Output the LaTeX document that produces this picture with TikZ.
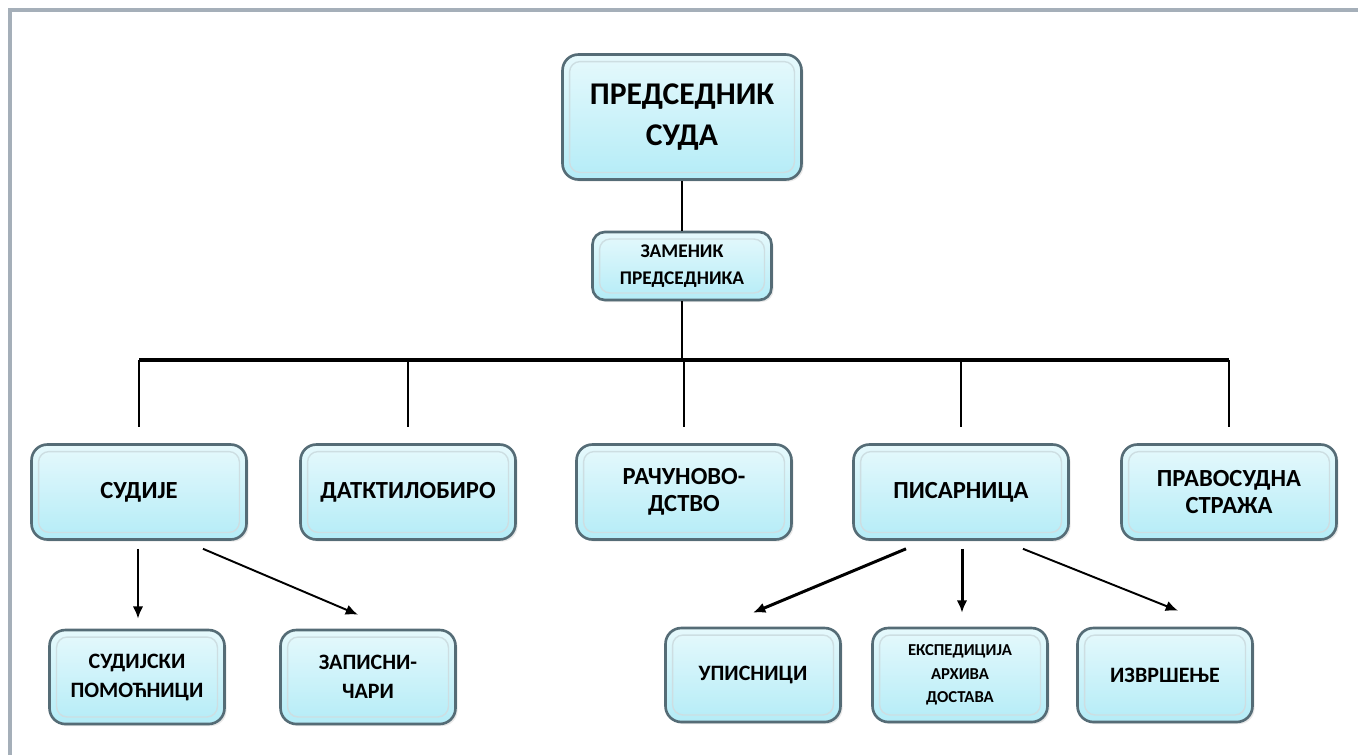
\documentclass[tikz,border=0pt]{standalone}
\usepackage{fontspec}
\setmainfont{Carlito}
\usetikzlibrary{arrows.meta,calc,shadows}

\definecolor{boxline}{RGB}{85,108,118}
\definecolor{boxinner}{RGB}{205,222,226}
\definecolor{boxtop}{RGB}{230,249,252}
\definecolor{boxbottom}{RGB}{180,236,247}
\definecolor{frameline}{RGB}{165,175,185}

\tikzset{
  orgbox/.style={draw=boxline, line width=1.5pt, rounded corners=9pt,
    top color=boxtop, bottom color=boxbottom, align=center,
    inner sep=2pt, text=black,
    drop shadow={opacity=0.18, shadow xshift=1.2pt, shadow yshift=-1.2pt},
    path picture={\draw[boxinner, line width=0.8pt, rounded corners=6pt]
      ([xshift=4pt,yshift=-4pt]path picture bounding box.north west) rectangle
      ([xshift=-4pt,yshift=4pt]path picture bounding box.south east);}},
  midbox/.style={orgbox, minimum width=4.3cm, minimum height=1.9cm,
    font=\bfseries\fontsize{14}{15.5}\selectfont},
  lowbox/.style={orgbox, minimum width=3.5cm, minimum height=1.88cm,
    font=\bfseries\fontsize{12.5}{16.5}\selectfont},
  tree/.style={line width=1.4pt},
  thick arrow/.style={->, line width=1.7pt},
  thin arrow/.style={->, line width=1.1pt}
}

\begin{document}
\begin{tikzpicture}[x=0.02cm, y=-0.02cm, >={Latex[length=7pt,width=6pt]}]

\useasboundingbox (0,0) rectangle (1358,755);

% frame
\draw[frameline, line width=1.8pt] (10,755) -- (10,10) -- (1358,10);

% top
\node[orgbox, minimum width=4.78cm, minimum height=2.5cm,
  font=\bfseries\fontsize{18}{23}\selectfont] (pres) at (682,117) {ПРЕДСЕДНИК\\СУДА};
\node[orgbox, minimum width=3.58cm, minimum height=1.36cm, rounded corners=7pt,
  font=\bfseries\fontsize{11}{15}\selectfont] (zam) at (682,266) {ЗАМЕНИК\\ПРЕДСЕДНИКА};

% second row
\node[midbox] (sud)  at (139,492) {СУДИЈЕ};
\node[midbox] (dakt) at (408,492) {ДАТКТИЛОБИРО};
\node[midbox] (rac)  at (684,492) {РАЧУНОВО-\\ДСТВО};
\node[midbox] (pis)  at (961,492) {ПИСАРНИЦА};
\node[midbox] (prav) at (1229,492) {ПРАВОСУДНА\\СТРАЖА};

% third row
\node[lowbox] (pom)  at (137,677) {СУДИЈСКИ\\ПОМОЋНИЦИ};
\node[lowbox] (zap)  at (368,677) {ЗАПИСНИ-\\ЧАРИ};
\node[lowbox] (ups)  at (753,675) {УПИСНИЦИ};
\node[lowbox, font=\bfseries\fontsize{9.5}{13.5}\selectfont] (eksp) at (960,675) {ЕКСПЕДИЦИЈА\\АРХИВА\\ДОСТАВА};
\node[lowbox] (izv)  at (1165,675) {ИЗВРШЕЊЕ};

% tree
\coordinate (bus) at (0,360);
\draw[tree] (pres) -- (zam);
\draw[tree] (zam) -- (zam |- bus);
\draw[line width=2.3pt] (sud |- bus) -- (prav |- bus);

\draw[tree] (sud |- bus)  -- ($(sud.north)+(0,-16)$);
\draw[tree] (dakt |- bus) -- ($(dakt.north)+(0,-16)$);
\draw[tree] (rac |- bus)  -- ($(rac.north)+(0,-16)$);
\draw[tree] (pis |- bus)  -- ($(pis.north)+(0,-16)$);
\draw[tree] (prav |- bus) -- ($(prav.north)+(0,-16)$);

% arrows
\draw[thick arrow] ($(sud.south)+(-1,8)$) -- ($(pom.north)+(1,-10)$);
\draw[thin arrow]  ($(sud.south)+(64,8)$) -- ($(zap.north)+(-10,-14)$);

\draw[thick arrow] ($(pis.south)+(-55,8)$) -- ($(ups.north)+(0,-14)$);
\draw[thick arrow] ($(pis.south)+(1,8)$)   -- ($(eksp.north)+(2,-14)$);
\draw[thin arrow]  ($(pis.south)+(62,8)$)  -- ($(izv.north)+(13,-16)$);

\end{tikzpicture}
\end{document}
